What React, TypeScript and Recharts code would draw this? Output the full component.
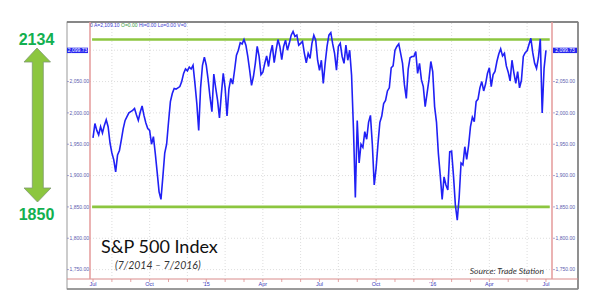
import React from 'react';
import { LineChart, Line, XAxis, YAxis, ReferenceLine } from 'recharts';

// S&P 500 closes, ~10 samples per month, Jul 2014 .. Jul 2016
const closes2014 = [
  1960, 1983, 1972, 1965, 1978, 1968, 1980, 1989, 1978, 1952,
  1936, 1925, 1906, 1933, 1940, 1957, 1975, 1988, 1994, 2000,
  2002, 2004, 2007, 1997, 1988, 2001, 2011, 1996, 1984, 1975,
  1972, 1950, 1962, 1935, 1905, 1874, 1862, 1898, 1936, 1950,
  1985, 2018, 2031, 2039, 2038, 2040, 2042, 2050, 2063, 2070,
  2067, 2073, 2070, 2076, 2047, 2015, 1972, 2040, 2076, 2089,
];
const closes2015 = [
  2076, 2053, 2025, 2002, 2062, 2040, 2020, 1992, 2030, 2063,
  2040, 1995, 2038, 2055, 2046, 2068, 2092, 2100, 2112, 2110,
  2117, 2108, 2090, 2068, 2044, 2058, 2079, 2106, 2090, 2061,
  2065, 2079, 2091, 2074, 2095, 2108, 2080, 2100, 2117, 2106,
  2085, 2106, 2116, 2100, 2111, 2124, 2130, 2122, 2124, 2108,
  2111, 2114, 2095, 2080, 2095, 2087, 2111, 2124, 2116, 2084,
  2068, 2084, 2047, 2079, 2106, 2124, 2128, 2110, 2095, 2068,
  2106, 2111, 2090, 2079, 2108, 2084, 2100, 2060, 1975, 1865,
  1988, 1920, 1950, 1945, 1970, 1958, 1985, 1996, 1950, 1885,
  1912, 1951, 1985, 1995, 2015, 2020, 2035, 2040, 2072, 2075,
  2100, 2106, 2110, 2095, 2079, 2045, 2023, 2070, 2088, 2090,
  2090, 2098, 2063, 2079, 2053, 2042, 2010, 2031, 2053, 2082,
];
const closes2016 = [
  2066, 2010, 1985, 1935, 1900, 1862, 1898, 1885, 1877, 1938,
  1939, 1900, 1853, 1829, 1865, 1920, 1917, 1946, 1926, 1948,
  1978, 1993, 1986, 2018, 2022, 2040, 2050, 2035, 2046, 2063,
  2072, 2042, 2061, 2066, 2082, 2094, 2102, 2091, 2095, 2075,
  2065, 2051, 2084, 2064, 2047, 2066, 2040, 2052, 2090, 2096,
  2099, 2109, 2119, 2096, 2079, 2071, 2088, 2118, 2000, 2071,
  2099.73,
];

const quarterLabels = ['Jul', 'Oct', "'15", 'Apr', 'Jul', 'Oct', "'16", 'Apr', 'Jul'];
const yTicks = [1750, 1800, 1850, 1900, 1950, 2000, 2050];
const lastClose = 2099.73;
const upperBand = 2117;
const lowerBand = 1850;

const PER_MONTH = 10;
const closes = [...closes2014, ...closes2015, ...closes2016];
const data = closes.map((close, i) => ({ i, close }));
const monthTicks = Array.from({ length: 25 }, (_, m) => m * PER_MONTH);
const gridMonths = monthTicks.filter((_, m) => m % 2 === 1);

const fmt = (v: number) => {
  const whole = Math.floor(v);
  const cents = Math.round((v - whole) * 100);
  return `${Math.floor(whole / 1000)},${String(whole % 1000).padStart(3, '0')}.${String(cents).padStart(2, '0')}`;
};

const axisFont = 'Liberation Sans, Arial, sans-serif';

const YTick = (side: 'l' | 'r') => (props: any) => {
  const { y, payload } = props;
  const v = payload.value;
  const x0 = side === 'l' ? 67 : 553;
  if (v === lastClose) {
    const w = side === 'l' ? 21 : 24;
    return (
      <g>
        <rect x={x0} y={y - 2.7} width={w} height={5.4} fill="#2626f0" />
        <text x={x0 + w / 2} y={y + 1.8} textAnchor="middle" fontSize={5} fill="#fff" fontFamily={axisFont}>
          {fmt(v)}
        </text>
      </g>
    );
  }
  return (
    <g>
      <line x1={x0} x2={x0 + 2} y1={y} y2={y} stroke="#7070b8" strokeWidth={0.6} />
      <text x={x0 + 2.5} y={y + 1.8} fontSize={5} fill="#5a5aae" fontFamily={axisFont}>
        {fmt(v)}
      </text>
    </g>
  );
};

const XTick = (props: any) => {
  const { x, payload } = props;
  const idx = payload.value as number;
  const label = idx % (PER_MONTH * 3) === 0 ? quarterLabels[idx / (PER_MONTH * 3)] : '';
  return (
    <g>
      <line x1={x} x2={x} y1={279} y2={282} stroke="#d98080" strokeWidth={0.7} />
      {label && (
        <text x={x} y={286} textAnchor="middle" fontSize={5.5} fill="#3a3ab8" fontFamily={axisFont}>
          {label}
        </text>
      )}
    </g>
  );
};

export default function App() {
  return (
    <div style={{ position: 'absolute', left: 0, top: 0, width: 600, height: 305, background: '#fff' }}>
      <svg width={600} height={305} style={{ position: 'absolute', left: 0, top: 0 }}>
        <rect x={67} y={22} width={511} height={267} fill="#fff" stroke="#9a9a9a" strokeWidth={1} />
        <line x1={67} x2={578} y1={22} y2={22} stroke="#707070" strokeWidth={1.6} />
        <line x1={578} x2={578} y1={22} y2={289} stroke="#808080" strokeWidth={1.6} />
        <line x1={67} x2={578} y1={289} y2={289} stroke="#8a8a8a" strokeWidth={1.4} />
        <line x1={67} x2={578} y1={279} y2={279} stroke="#d98a8a" strokeWidth={1} />
      </svg>
      <div style={{ position: 'absolute', left: 0, top: 0 }}>
        <LineChart width={600} height={305} data={data} margin={{ top: 22, right: 22, bottom: 16, left: 67 }}>
          <XAxis
            dataKey="i"
            type="number"
            domain={[-1.6, 243.2]}
            allowDataOverflow
            ticks={monthTicks}
            interval={0}
            tick={XTick}
            tickLine={false}
            axisLine={false}
            height={10}
          />
          <YAxis
            yAxisId="l"
            orientation="left"
            domain={[1735, 2145]}
            allowDataOverflow
            ticks={[...yTicks, lastClose]}
            interval={0}
            tick={YTick('l')}
            tickLine={false}
            axisLine={{ stroke: '#e49a9a', strokeWidth: 1.5 }}
            width={23}
          />
          <YAxis
            yAxisId="r"
            orientation="right"
            domain={[1735, 2145]}
            allowDataOverflow
            ticks={[...yTicks, lastClose]}
            interval={0}
            tick={YTick('r')}
            tickLine={false}
            axisLine={{ stroke: '#e49a9a', strokeWidth: 1.5 }}
            width={26}
          />
          {[...yTicks, 2100].map((v) => (
            <ReferenceLine key={`h${v}`} yAxisId="l" y={v} stroke="#d4d4d4" strokeDasharray="1 2" strokeWidth={0.8} />
          ))}
          {gridMonths.map((m) => (
            <ReferenceLine key={`v${m}`} yAxisId="l" x={m} stroke="#d4d4d4" strokeDasharray="1 2" strokeWidth={0.8} />
          ))}
          <ReferenceLine
            yAxisId="l"
            segment={[{ x: -0.5, y: upperBand }, { x: 242, y: upperBand }]}
            stroke="#8cc63f"
            strokeWidth={2.6}
          />
          <ReferenceLine
            yAxisId="l"
            segment={[{ x: -0.5, y: lowerBand }, { x: 242, y: lowerBand }]}
            stroke="#8cc63f"
            strokeWidth={2.6}
          />
          <Line
            yAxisId="l"
            type="linear"
            dataKey="close"
            stroke="#2020f5"
            strokeWidth={1.6}
            dot={false}
            isAnimationActive={false}
          />
        </LineChart>
      </div>
      <svg width={600} height={305} style={{ position: 'absolute', left: 0, top: 0, pointerEvents: 'none' }}>
        <text x={90} y={26.5} fontSize={5} fontFamily={axisFont} fill="#4a4aa8">
          <tspan>0 </tspan>
          <tspan fill="#3a3ad0">A=2,109.10 </tspan>
          <tspan fill="#3a9a3a">O=0.00 </tspan>
          <tspan fill="#3a3ad0">Hi=0.00 </tspan>
          <tspan fill="#3a3ad0">Lo=0.00 </tspan>
          <tspan fill="#3a3ad0">V=0</tspan>
        </text>
        <path
          d="M37 48 L50.5 62 L43.3 62 L43.3 188 L51 188 L37.5 202 L24 188 L32.3 188 L32.3 62 L24 62 Z"
          fill="#8cc63f"
          stroke="#7f9b72"
          strokeWidth={0.8}
        />
        <text x={36.5} y={45} textAnchor="middle" fontSize={16} fontWeight="bold" fill="#12b050" fontFamily="Liberation Sans, Arial, sans-serif">
          2134
        </text>
        <text x={36.5} y={220} textAnchor="middle" fontSize={16} fontWeight="bold" fill="#12b050" fontFamily="Liberation Sans, Arial, sans-serif">
          1850
        </text>
        <text x={101} y={253} fontSize={18} fill="#111" fontFamily="Lato, 'Open Sans', sans-serif">
          S&amp;P 500 Index
        </text>
        <text x={115} y={269} fontSize={10.5} fontStyle="italic" fill="#333" fontFamily="Lato, 'Open Sans', sans-serif">
          (7/2014 – 7/2016)
        </text>
        <text x={544} y={274} textAnchor="end" fontSize={8.5} fontStyle="italic" fill="#333" fontFamily="Lato, 'Open Sans', sans-serif">
          Source: Trade Station
        </text>
      </svg>
    </div>
  );
}
